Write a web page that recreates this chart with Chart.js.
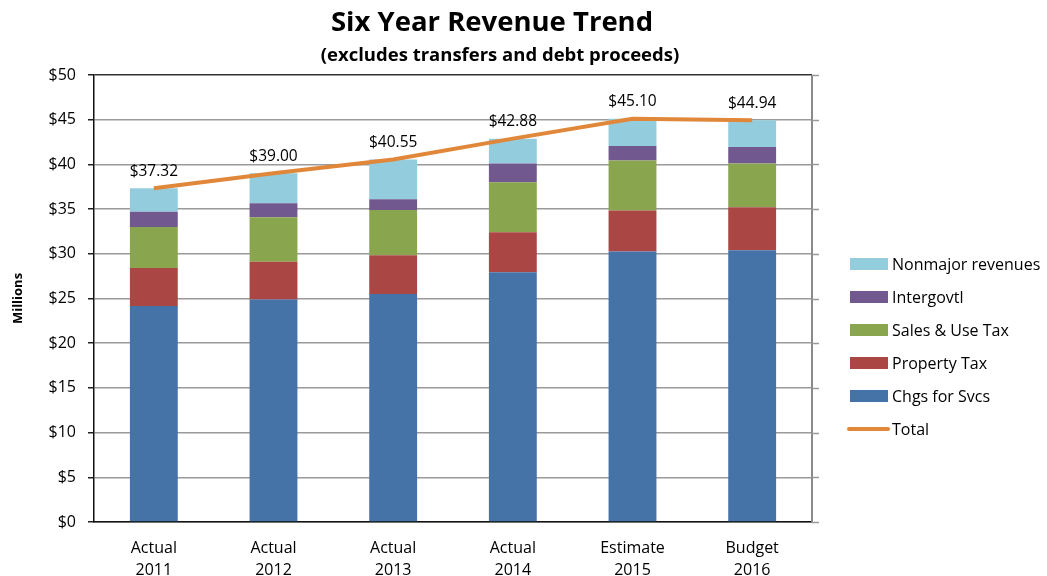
<!DOCTYPE html>
<html>
<head>
<meta charset="utf-8">
<script src="https://cdn.jsdelivr.net/npm/chart.js@4.4.1/dist/chart.umd.min.js"></script>
<style>
  html, body { margin: 0; padding: 0; background: #fff; }
  #wrap { width: 1047px; height: 576px; position: relative; }
</style>
</head>
<body>
<div id="wrap"><canvas id="c" width="1047" height="576"></canvas></div>
<script>
// Revenue by source, in millions of dollars
const categories = [['Actual', '2011'], ['Actual', '2012'], ['Actual', '2013'], ['Actual', '2014'], ['Estimate', '2015'], ['Budget', '2016']];
const chgsForSvcs = [24.15, 24.90, 25.50, 27.95, 30.25, 30.40];
const propertyTax = [4.25, 4.20, 4.35, 4.45, 4.60, 4.80];
const salesUseTax = [4.60, 5.00, 5.05, 5.60, 5.60, 4.90];
const intergovtl = [1.70, 1.55, 1.20, 2.10, 1.60, 1.85];
const nonmajor = [2.62, 3.35, 4.45, 2.78, 3.05, 2.99];
const totals = [37.32, 39.00, 40.55, 42.88, 45.10, 44.94];
const yTicks = [0, 5, 10, 15, 20, 25, 30, 35, 40, 45, 50];

const FONT = '"Open Sans", Lato, sans-serif';

const barSets = [
  { label: 'Chgs for Svcs', data: chgsForSvcs, color: '#4572A7' },
  { label: 'Property Tax', data: propertyTax, color: '#AA4643' },
  { label: 'Sales & Use Tax', data: salesUseTax, color: '#89A54E' },
  { label: 'Intergovtl', data: intergovtl, color: '#71588F' },
  { label: 'Nonmajor revenues', data: nonmajor, color: '#93CDDD' }
];

const datasets = barSets.map(s => ({
  type: 'bar',
  label: s.label,
  data: s.data,
  backgroundColor: s.color,
  borderWidth: 0,
  barPercentage: 0.4,
  categoryPercentage: 1,
  order: 2
}));
datasets.push({
  type: 'line',
  label: 'Total',
  data: totals,
  borderColor: '#E0873A',
  backgroundColor: '#E0873A',
  borderWidth: 4,
  pointRadius: 0,
  tension: 0,
  order: 1
});

// Titles, value labels above the total line, plot frame and legend
const decorations = {
  id: 'decorations',
  afterDraw(chart) {
    const ctx = chart.ctx;
    const area = chart.chartArea;
    ctx.save();

    // right frame edge and the short gridline stubs beyond it
    const y = chart.scales.y;
    ctx.strokeStyle = '#8a8a8a';
    ctx.lineWidth = 2;
    ctx.beginPath();
    ctx.moveTo(area.right, area.top);
    ctx.lineTo(area.right, area.bottom);
    ctx.stroke();
    ctx.lineWidth = 1.5;
    ctx.strokeStyle = '#9a9a9a';
    yTicks.forEach(v => {
      const py = Math.round(y.getPixelForValue(v)) + 0.5;
      ctx.beginPath();
      ctx.moveTo(area.right, py);
      ctx.lineTo(area.right + 7, py);
      ctx.stroke();
    });

    // titles
    ctx.fillStyle = '#000';
    ctx.textAlign = 'center';
    ctx.textBaseline = 'middle';
    ctx.font = 'bold 27.5px ' + FONT;
    ctx.fillText('Six Year Revenue Trend', 492, 23);
    ctx.font = 'bold 18.5px ' + FONT;
    ctx.fillText('(excludes transfers and debt proceeds)', 500, 56);

    // total value labels
    const lineMeta = chart.getDatasetMeta(datasets.length - 1);
    ctx.font = '15.5px ' + FONT;
    lineMeta.data.forEach((pt, i) => {
      ctx.fillText('$' + totals[i].toFixed(2), pt.x, pt.y - 17);
    });

    // legend: bar series listed top-down in reverse stack order, then the line
    const items = barSets.slice().reverse().map(s => ({ label: s.label, color: s.color, kind: 'box' }));
    items.push({ label: 'Total', color: '#E0873A', kind: 'line' });
    ctx.textAlign = 'left';
    ctx.font = '16px ' + FONT;
    items.forEach((it, i) => {
      const cy = 264 + i * 33;
      ctx.fillStyle = it.color;
      if (it.kind === 'box') {
        ctx.fillRect(850, cy - 6, 38, 12);
      } else {
        ctx.strokeStyle = it.color;
        ctx.lineWidth = 4;
        ctx.lineCap = 'round';
        ctx.beginPath();
        ctx.moveTo(849, cy);
        ctx.lineTo(888, cy);
        ctx.stroke();
      }
      ctx.fillStyle = '#000';
      ctx.fillText(it.label, 892, cy + 1);
    });
    ctx.restore();
  }
};

new Chart(document.getElementById('c'), {
  data: { labels: categories, datasets },
  options: {
    responsive: false,
    animation: false,
    layout: { padding: { top: 75, right: 235, left: 0, bottom: 0 } },
    plugins: {
      legend: { display: false },
      tooltip: { enabled: false },
      title: { display: false }
    },
    scales: {
      x: {
        stacked: true,
        grid: { display: false, drawTicks: false },
        border: { display: true, color: '#111', width: 1.5 },
        ticks: {
          color: '#000',
          font: { family: FONT, size: 16, lineHeight: 1.4 },
          padding: 15,
          maxRotation: 0
        },
        afterFit(scale) { scale.height = 54; }
      },
      y: {
        stacked: true,
        min: 0,
        max: 50,
        afterBuildTicks(scale) { scale.ticks = yTicks.map(v => ({ value: v })); },
        grid: {
          color: ctx => (ctx.tick && ctx.tick.value === 50 ? '#333' : '#9a9a9a'),
          lineWidth: 1.5,
          tickColor: '#222',
          tickLength: 6
        },
        border: { display: true, color: '#111', width: 1.5 },
        ticks: {
          color: '#000',
          font: { family: FONT, size: 16 },
          padding: 12,
          callback: v => '$' + v
        },
        title: {
          display: true,
          text: 'Millions',
          color: '#000',
          font: { family: FONT, size: 13, weight: 'bold' },
          padding: { top: 10, bottom: 0 }
        },
        afterFit(scale) { scale.width = 94; }
      }
    }
  },
  plugins: [decorations]
});
</script>
</body>
</html>
